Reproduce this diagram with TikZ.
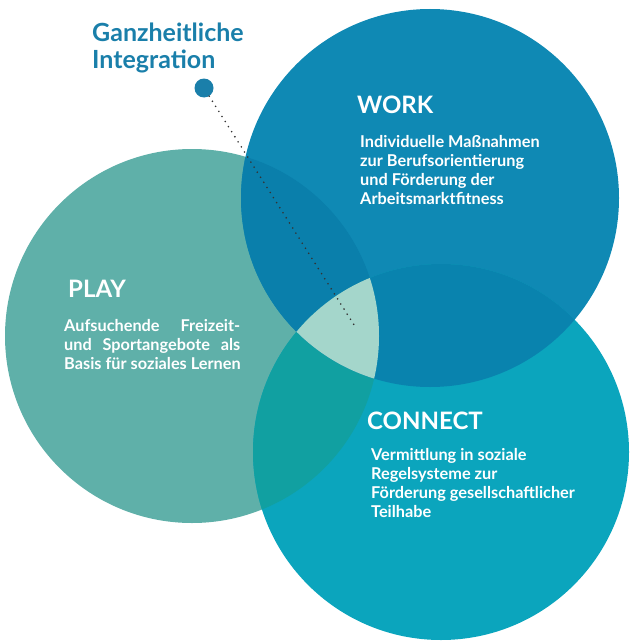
\documentclass[tikz,border=0pt]{standalone}
\usepackage{fontspec}
\setmainfont{Lato}

\definecolor{playcol}{HTML}{5FB0A9}
\definecolor{workcol}{HTML}{0F89B4}
\definecolor{conncol}{HTML}{0BA5BD}
\definecolor{pwcol}{HTML}{0A7FAB}
\definecolor{wccol}{HTML}{0983AE}
\definecolor{pccol}{HTML}{11A0A1}
\definecolor{allcol}{HTML}{A4D6CB}
\definecolor{titlecol}{HTML}{1A7FAA}

\begin{document}
\begin{tikzpicture}[x=1pt,y=-1pt,
  head/.style={text=white,font=\fontsize{24}{28}\selectfont\bfseries,anchor=base west,inner sep=0pt},
  body/.style={text=white,font=\fontsize{16.3}{19}\selectfont\bfseries,anchor=north west,align=left,inner sep=0pt}]

\useasboundingbox (0,0) rectangle (630,642);

% Circles
\fill[playcol] (192,336) circle (187);   % Play
\fill[workcol] (430,198) circle (189);   % Work
\fill[conncol] (441,452) circle (188);   % Connect

% Overlaps
\begin{scope}
  \clip (192,336) circle (187);
  \fill[pwcol] (430,198) circle (189);
  \fill[pccol] (441,452) circle (188);
\end{scope}
\begin{scope}
  \clip (430,198) circle (189);
  \fill[wccol] (441,452) circle (188);
\end{scope}
\begin{scope}
  \clip (192,336) circle (187);
  \clip (430,198) circle (189);
  \fill[allcol] (441,452) circle (188);
\end{scope}

% Integration marker
\node (title) [anchor=north west,align=left,inner sep=0pt,text=titlecol,
  font=\fontsize{25}{27}\selectfont\bfseries] at (92,23) {Ganzheitliche\\Integration};
\node (dot) [circle,fill=titlecol,inner sep=0pt,minimum size=19pt] at (204,88) {};
\coordinate (mid) at (356,328);
\draw[black!80,line width=1.8pt,line cap=round,dash pattern=on 0pt off 6pt] (dot) -- (mid);

% Labels
\node (work) [head] at (357,113) {WORK};
\node (worktext) [body] at (360,135)
  {Individuelle Maßnahmen\\zur Berufsorientierung\\und Förderung der\\Arbeitsmarktfitness};

\node (play) [head] at (68,297) {PLAY};
\node (playtext) [body] at (64,319)
  {\makebox[176pt][s]{Aufsuchende Freizeit-}\\\makebox[176pt][s]{und Sportangebote als}\\Basis für soziales Lernen};

\node (connect) [head] at (367,429) {CONNECT};
\node (conntext) [body] at (371,448)
  {Vermittlung in soziale\\Regelsysteme zur\\Förderung gesellschaftlicher\\Teilhabe};

\end{tikzpicture}
\end{document}
